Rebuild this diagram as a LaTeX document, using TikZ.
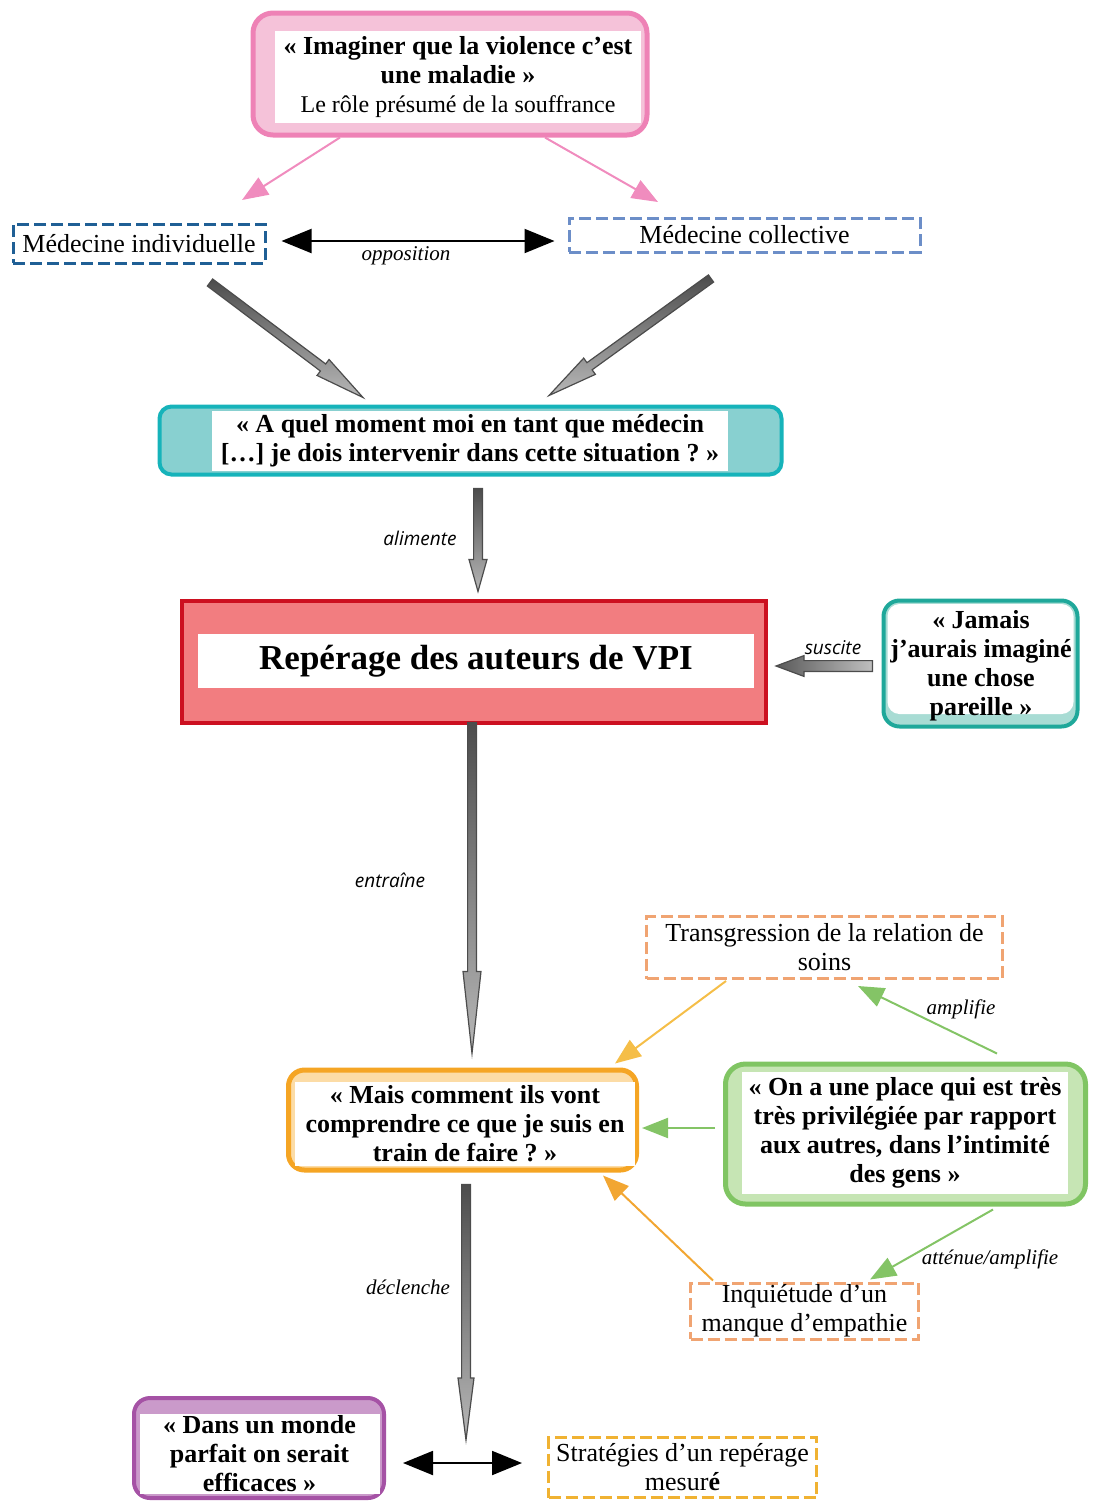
\documentclass[tikz,border=0pt]{standalone}
\usepackage{fontspec}
\setmainfont{Liberation Serif}
\newfontfamily\lblsansfont{Open Sans}
\usetikzlibrary{arrows.meta,calc,positioning}

\definecolor{pinkborder}{HTML}{EE82B6}
\definecolor{pinkfill}{HTML}{F5C2D9}
\definecolor{pinkline}{HTML}{F08CBE}
\definecolor{indblue}{HTML}{1F5F95}
\definecolor{colblue}{HTML}{6C8EC8}
\definecolor{tealborder}{HTML}{16B3BA}
\definecolor{tealfill}{HTML}{88D0D0}
\definecolor{redborder}{HTML}{CC1020}
\definecolor{redfill}{HTML}{F27D80}
\definecolor{jamaisteal}{HTML}{1FA89A}
\definecolor{jamaisfill}{HTML}{A8DCD4}
\definecolor{orangeborder}{HTML}{F5A524}
\definecolor{orangefill}{HTML}{FCDCA6}
\definecolor{greenborder}{HTML}{80C563}
\definecolor{greenfill}{HTML}{C6E5B4}
\definecolor{purpleborder}{HTML}{A552A5}
\definecolor{purplefill}{HTML}{CA9ACA}
\definecolor{salmondash}{HTML}{F0A472}
\definecolor{yellowdash}{HTML}{F0B232}
\definecolor{lightorange}{HTML}{F5BE48}
\definecolor{orangeline}{HTML}{F2A632}
\definecolor{greenline}{HTML}{84C466}

\tikzset{
    qframe/.style={rounded corners=8pt, line width=2.5pt, inner sep=0pt},
    pane/.style={fill=white, inner sep=0pt, align=center, font=\fontsize{13}{14.5}\selectfont\bfseries},
    dashbox/.style={draw, line width=1.5pt, dash pattern=on 6pt off 2.5pt, inner sep=0pt, align=center},
    lblserif/.style={font=\fontsize{10.5}{12}\selectfont\itshape},
    lblsans/.style={font=\fontsize{9.5}{12}\selectfont\lblsansfont\itshape},
    thinarrow/.style={line width=1pt, -{Triangle[length=13pt,width=10pt]}},
    bothway/.style={line width=1pt, {Triangle[length=15pt,width=12pt]}-{Triangle[length=15pt,width=12pt]}},
    grayshade/.style={draw=black!70, line width=0.6pt, top color=black!70, bottom color=black!28},
}

% block arrow: [options]{start}{end}{shaft half width}{head half width}{head length}
\newcommand{\grayarrow}[6][]{%
    \coordinate (ga-s) at #2;
    \coordinate (ga-e) at #3;
    \coordinate (ga-h) at ($(ga-e)!#6!(ga-s)$);
    \draw[grayshade, #1] ($(ga-s)!#4!90:(ga-e)$) -- ($(ga-h)!#4!90:(ga-e)$)
        -- ($(ga-h)!#5!90:(ga-e)$) -- (ga-e) -- ($(ga-h)!#5!-90:(ga-e)$)
        -- ($(ga-h)!#4!-90:(ga-e)$) -- ($(ga-s)!#4!-90:(ga-e)$) -- cycle;
}

\begin{document}
\begin{tikzpicture}[x=0.5pt, y=-0.5pt, font=\fontsize{13}{14.5}\selectfont]
    \useasboundingbox (0,0) rectangle (1095,1501);

    % Top question
    \node[qframe, draw=pinkborder, fill=pinkfill, rounded corners=10pt, minimum width=197pt, minimum height=61pt] (imag) at (450,74) {};
    \node[pane, minimum width=183pt, minimum height=46pt] (imag-t) at (458,77)
        {«~Imaginer que la violence c’est\\une maladie~»\\{\mdseries\fontsize{12}{14.5}\selectfont Le rôle présumé de la souffrance}};

    % Medicine
    \node[dashbox, draw=indblue, minimum width=126pt, minimum height=19.5pt] (medind) at (139,243.5) {Médecine individuelle};
    \node[dashbox, draw=colblue, minimum width=175.5pt, minimum height=17pt] (medcol) at (744.5,235) {Médecine collective};

    \coordinate (pinkL) at (242,200);
    \coordinate (pinkR) at (658,202);
    \draw[thinarrow, pinkline] ($(imag.south)+(-110,0)$) -- (pinkL);
    \draw[thinarrow, pinkline] ($(imag.south)+(95,0)$) -- (pinkR);

    \draw[bothway] ($(medind.east)+(15,-2.5)$) -- ($(medcol.west |- medind.east)+(-13,-2.5)$);
    \node[lblserif] (lopp) at (406,256) {opposition};

    % Doctor's question
    \node[qframe, draw=tealborder, fill=tealfill, rounded corners=6pt, line width=2pt, minimum width=311pt, minimum height=34pt] (aquel) at (470.5,440.5) {};
    \node[pane, minimum width=258pt, minimum height=30pt] (aquel-t) at (470,441)
        {«~A quel moment moi en tant que médecin\\{[}…{]} je dois intervenir dans cette situation~?~»};

    \grayarrow{($(medind.south)+(71,18)$)}{($(aquel.north)+(-107.5,-7)$)}{2.2pt}{5pt}{25pt}
    \grayarrow{($(medcol.south)+(-33.5,25)$)}{($(aquel.north)+(78.5,-9)$)}{2.2pt}{5pt}{25pt}

    % Central box
    \node[qframe, draw=redborder, fill=redfill, sharp corners, line width=2pt, minimum width=292pt, minimum height=61pt] (reperage) at (474,661.5) {};
    \node[pane, minimum width=278pt, minimum height=27pt, font=\fontsize{17.5}{20}\selectfont\bfseries] (reperage-t) at (476,661) {Repérage des auteurs de VPI};

    \grayarrow{($(aquel.south)+(7.5,12)$)}{($(reperage.north)+(4,-7)$)}{2.2pt}{4.5pt}{16pt}
    \node[lblsans] (lalim) at (420,538) {alimente};

    \node[qframe, draw=jamaisteal, fill=jamaisfill, line width=2pt, minimum width=97pt, minimum height=63pt] (jamais) at (980.5,663.5) {};
    \node[fill=white, rounded corners=6pt, minimum width=93pt, minimum height=55pt] (jamais-p) at (980.5,659) {};
    \node[pane, fill=none] (jamais-t) at (981,666)
        {«~Jamais\\j’aurais imaginé\\une chose\\pareille~»};

    \grayarrow[left color=black!65, right color=black!25]{($(jamais.west)+(-9,2.5)$)}{($(reperage.east)+(8,4.5)$)}{2.7pt}{5.2pt}{14pt}
    \node[lblsans] (lsusc) at (833,648) {suscite};

    % Patient's understanding
    \node[qframe, draw=orangeborder, fill=orangefill, minimum width=174pt, minimum height=50pt] (mais) at (462.5,1120) {};
    \node[pane, minimum width=170pt, minimum height=42pt] (mais-t) at (465,1124)
        {«~Mais comment ils vont\\comprendre ce que je suis en\\train de faire~?~»};

    \grayarrow{($(reperage.south)+(-2,-2)$)}{($(mais.north)+(9.5,-14)$)}{2.2pt}{4.5pt}{41pt}
    \node[lblsans] (lentr) at (390,880) {entraîne};

    \node[dashbox, draw=salmondash, minimum width=178pt, minimum height=31pt] (trans) at (824.5,947.5)
        {Transgression de la relation de\\soins};

    \node[qframe, draw=greenborder, fill=greenfill, rounded corners=10pt, minimum width=180pt, minimum height=70pt] (place) at (905.5,1134) {};
    \node[pane, minimum width=163pt, minimum height=61pt] (place-t) at (905,1133)
        {«~On a une place qui est très\\très privilégiée par rapport\\aux autres, dans l’intimité\\des gens~»};

    \node[dashbox, draw=salmondash, minimum width=114pt, minimum height=28pt] (inquiet) at (804.5,1311)
        {Inquiétude d’un\\manque d’empathie};

    \draw[thinarrow, lightorange] ($(trans.south)+(-98.5,1)$) -- ($(mais.north east)+(-24,-4)$);
    \draw[thinarrow, greenline] ($(place.north)+(91.5,-8)$) -- ($(trans.south)+(33.5,6)$);
    \node[lblserif] (lampl) at (961,1009) {amplifie};
    \draw[thinarrow, greenline] ($(place.west)+(-8,-6)$) -- ($(mais.east)+(3,8)$);
    \draw[thinarrow, greenline] ($(place.south)+(87.5,3)$) -- ($(inquiet.north)+(65.5,-2)$);
    \node[lblserif] (latt) at (990,1259) {atténue/amplifie};
    \draw[thinarrow, orangeline] ($(inquiet.north west)+(24,-1)$) -- ($(mais.south east)+(-36,3)$);

    % Outcome
    \coordinate (decl) at (466,1440);
    \grayarrow{($(mais.south)+(3.5,12)$)}{(decl)}{2.2pt}{4pt}{31pt}
    \node[lblserif] (ldecl) at (408,1287) {déclenche};

    \node[qframe, draw=purpleborder, fill=purplefill, line width=2pt, minimum width=125pt, minimum height=50pt] (monde) at (259,1448) {};
    \node[pane, minimum width=120pt, minimum height=40pt] (monde-t) at (259.5,1454)
        {«~Dans un monde\\parfait on serait\\efficaces~»};

    \node[dashbox, draw=yellowdash, minimum width=134pt, minimum height=30pt] (strat) at (682.5,1467.5)
        {Stratégies d’un repérage\\mesur\textbf{é}};

    \draw[bothway] ($(monde.east)+(17,15)$) -- ($(strat.west)+(-25,-4.5)$);

\end{tikzpicture}
\end{document}
